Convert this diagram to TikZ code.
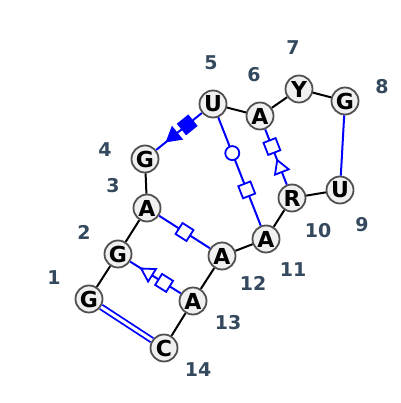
\documentclass[tikz,border=0pt]{standalone}
\usepackage{fontspec}
\setmainfont{DejaVu Sans}
\usepackage{tikz}
\usetikzlibrary{shapes.geometric}
\definecolor{basefill}{RGB}{240,240,240}
\definecolor{baseline}{RGB}{80,80,80}
\definecolor{numcol}{RGB}{52,73,94}
\tikzstyle{base} = [circle, draw=baseline, fill=basefill, line width=1.8pt, minimum size=27pt, inner sep=0pt, font=\bfseries\fontsize{22}{22}\selectfont]
\tikzstyle{num} = [text=numcol, font=\bfseries\fontsize{19}{19}\selectfont]
\tikzstyle{bb} = [-, draw=black, line width=2pt]
\tikzstyle{pair} = [-, draw=blue, line width=2pt]
\tikzstyle{opensq} = [rectangle, draw=blue, fill=white, line width=1.8pt, minimum size=13pt, inner sep=0pt, sloped, allow upside down]
\tikzstyle{fullsq} = [opensq, fill=blue]
\tikzstyle{opentri} = [regular polygon, regular polygon sides=3, shape border rotate=-90, draw=blue, fill=white, line width=1.8pt, minimum size=17pt, inner sep=0pt, sloped, allow upside down]
\tikzstyle{fulltri} = [opentri, fill=blue]
\tikzstyle{opencirc} = [circle, draw=blue, fill=white, line width=1.8pt, minimum size=14pt, inner sep=0pt]

\begin{document}
\begin{tikzpicture}[x=1pt, y=-1pt]
\useasboundingbox (0,0) rectangle (400,403);

% bases and backbone
\node[base] (b1) at (89,299) {G};
\node[base] (b2) at (118,254) {G} edge[bb] (b1);
\node[base] (b3) at (147,208) {A} edge[bb] (b2);
\node[base] (b4) at (145,159) {G} edge[bb] (b3);
\node[base] (b5) at (213,104) {U};
\node[base] (b6) at (260,116) {A} edge[bb] (b5);
\node[base] (b7) at (299,89) {Y} edge[bb] (b6);
\node[base] (b8) at (345,101) {G} edge[bb] (b7);
\node[base] (b9) at (340,190) {U};
\node[base] (b10) at (292,198) {R} edge[bb] (b9);
\node[base] (b11) at (266,239) {A} edge[bb] (b10);
\node[base] (b12) at (222,256) {A} edge[bb] (b11);
\node[base] (b13) at (193,301) {A} edge[bb] (b12);
\node[base] (b14) at (164,348) {C} edge[bb] (b13);

% numbers
\node[num] (l1) at (54,278) {1};
\node[num] (l2) at (84,232) {2};
\node[num] (l3) at (113,186) {3};
\node[num] (l4) at (105,150) {4};
\node[num] (l5) at (211,63) {5};
\node[num] (l6) at (254,75) {6};
\node[num] (l7) at (293,48) {7};
\node[num] (l8) at (382,87) {8};
\node[num] (l9) at (362,225) {9};
\node[num] (l10) at (318,231) {10};
\node[num] (l11) at (293,270) {11};
\node[num] (l12) at (253,283) {12};
\node[num] (l13) at (228,323) {13};
\node[num] (l14) at (198,370) {14};

% pairs
\draw[pair, double=white, double distance=3pt, line width=1.8pt] (b1) -- (b14);
\draw[pair] (b8) -- (b9);
\draw[pair] (b5) -- node[fullsq, pos=0.32] {} node[fulltri, pos=0.62] {} (b4);
\draw[pair] (b5) -- node[opencirc, pos=0.33] {} node[opensq, pos=0.67] {} (b11);
\draw[pair] (b10) -- node[opentri, pos=0.30] {} node[opensq, pos=0.69] {} (b6);
\draw[pair] (b3) -- node[opensq, pos=0.5] {} (b12);
\draw[pair] (b13) -- node[opensq, pos=0.33] {} node[opentri, pos=0.64] {} (b2);

\end{tikzpicture}
\end{document}
